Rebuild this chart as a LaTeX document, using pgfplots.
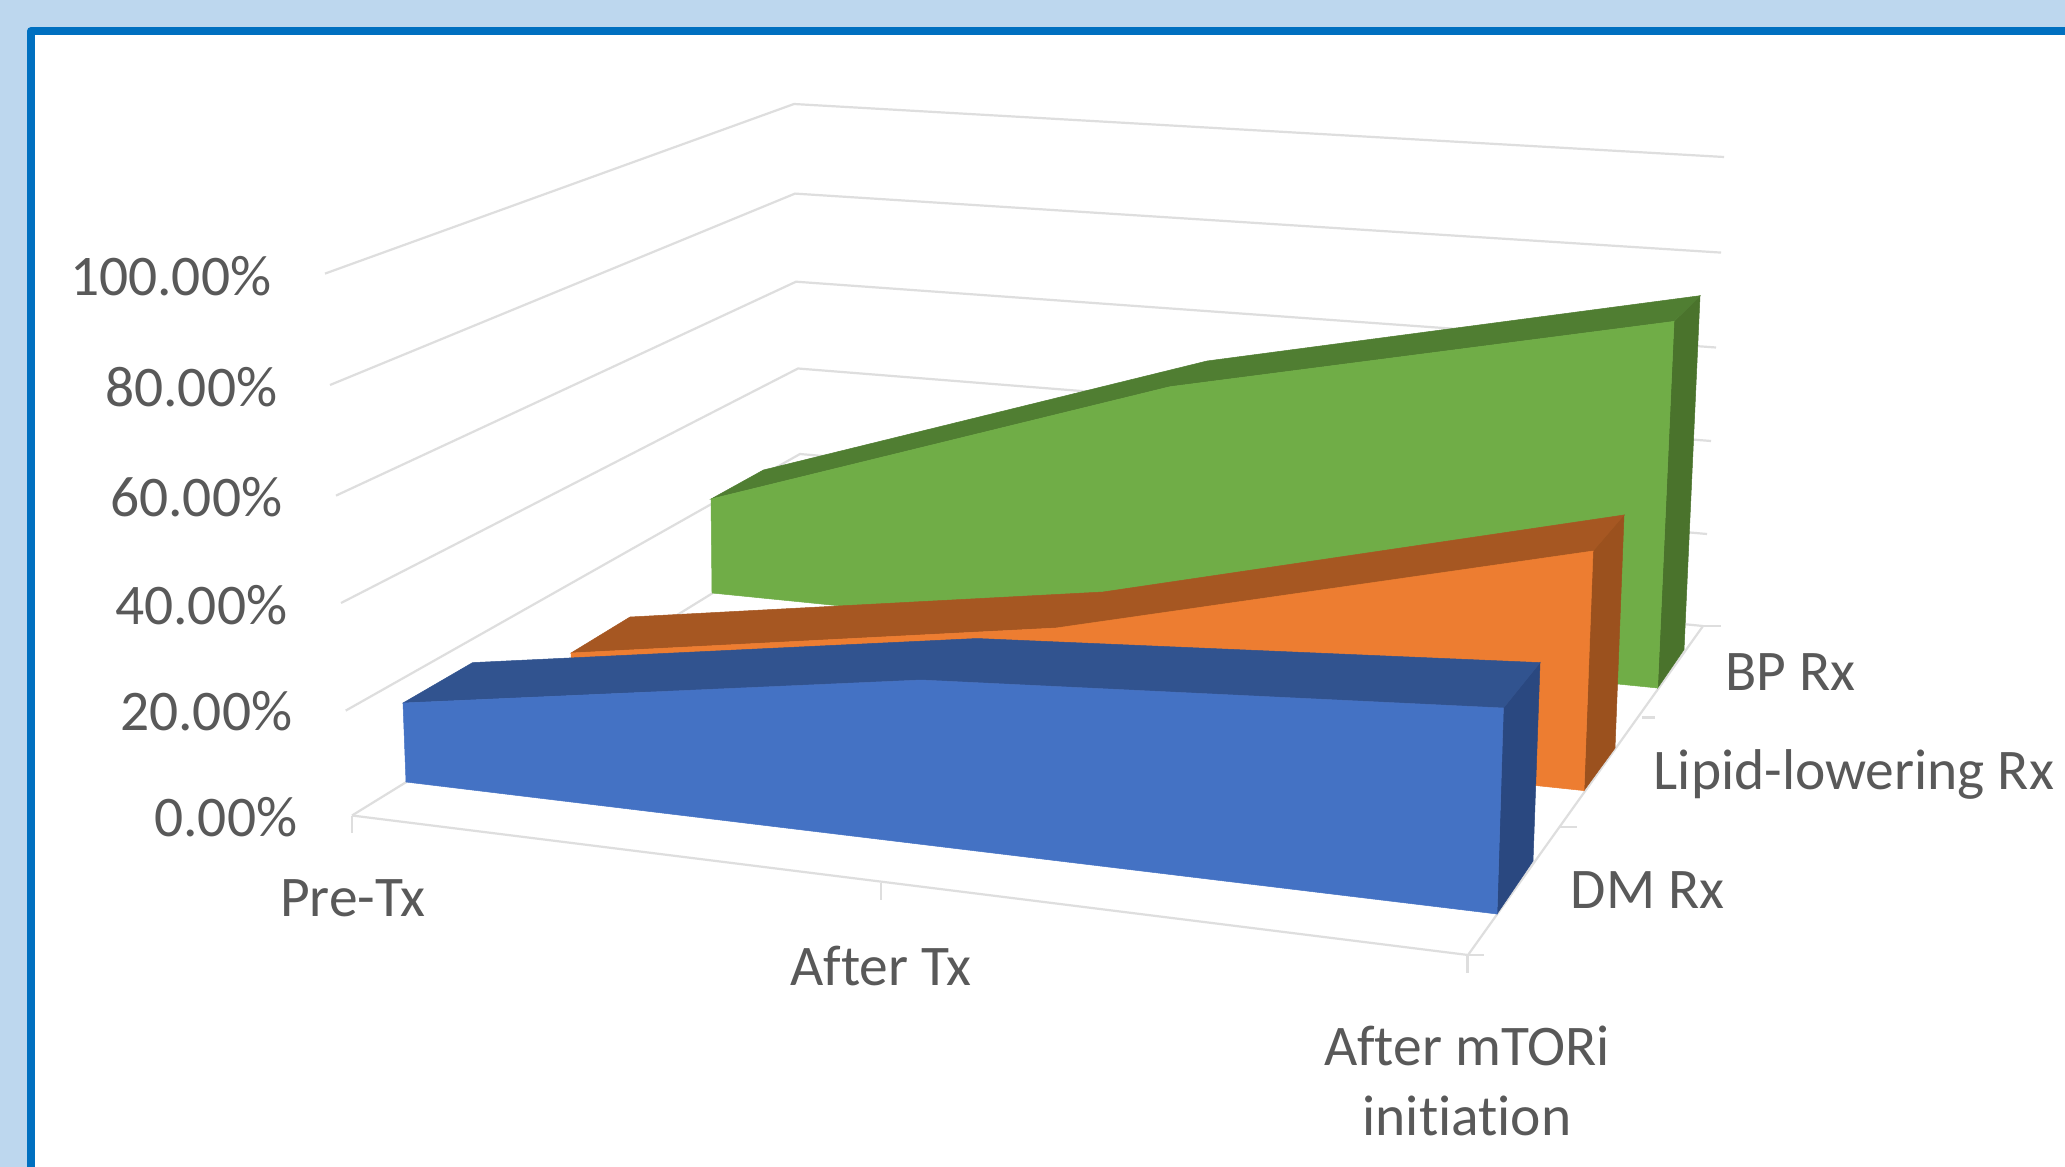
\documentclass[border=0pt]{standalone}
\usepackage{fontspec}
\setmainfont[Ligatures=NoCommon]{Carlito}
\usepackage{pgfplots}
\pgfplotsset{compat=1.18}

\definecolor{panel}{HTML}{BDD7EE}
\definecolor{frameblue}{HTML}{0070C0}
\definecolor{gridgray}{HTML}{DEDEDE}
\definecolor{labelgray}{HTML}{595959}
\definecolor{bluefront}{HTML}{4472C4}
\definecolor{bluetop}{HTML}{31538F}
\definecolor{blueside}{HTML}{2A4880}
\definecolor{orangefront}{HTML}{ED7D31}
\definecolor{orangetop}{HTML}{A65722}
\definecolor{orangeside}{HTML}{9B511E}
\definecolor{greenfront}{HTML}{70AD47}
\definecolor{greentop}{HTML}{507E32}
\definecolor{greenside}{HTML}{4A732C}

% One solid face of a series, given by its projected corners
\newcommand{\face}[2]{\addplot[fill=#1,draw=#1,line width=0.05mm] coordinates {#2} --cycle;}
% One wall, floor or tick line
\newcommand{\gridline}[1]{\addplot[draw=gridgray,line width=0.22mm] coordinates {#1};}
\newcommand{\lab}[4]{\node[font=\fontsize{16.35}{18}\selectfont,text=labelgray,inner sep=0pt,anchor=#1] at (axis cs:#2,#3) {#4};}

\begin{document}
\begin{tikzpicture}
\begin{axis}[
  scale only axis,
  width=206.5mm, height=116.7mm,
  xmin=0, xmax=2065, ymin=0, ymax=1167,
  y dir=reverse,
  hide axis,
  clip=true,
]
% page background and framed panel
\addplot[fill=panel,draw=none] coordinates {(0,0)(2065,0)(2065,1167)(0,1167)} --cycle;
\addplot[fill=white,draw=frameblue,line width=0.8mm,line join=round]
  coordinates {(31,1190)(31,31)(2090,31)(2090,1190)} --cycle;

% value gridlines: side wall, then back wall
\gridline{(325,273.6)(794,104)(1724,157)}
\gridline{(330,385)(795,193.6)(1721,252.6)}
\gridline{(336,495.6)(796,281.7)(1716,347.5)}
\gridline{(341,603)(798,368.5)(1711,441)}
\gridline{(345.7,710.6)(800,454)(1707,534)}
% floor outline
\gridline{(352,815.5)(802,538)(1703,626)}
\gridline{(352,815.5)(1468,955)(1703,626)}
% category ticks
\gridline{(352,815.5)(352,833)}
\gridline{(881,882.5)(881,899.5)}
\gridline{(1467.5,955)(1467.5,972.5)}
% series ticks
\gridline{(1703,626)(1721,626)}
\gridline{(1642,717.5)(1655,717.5)}
\gridline{(1560,827)(1577,827)}
\gridline{(1468,955)(1484,955)}

% BP Rx
\face{greenside}{(1674,321.4)(1700,295.7)(1684,649.6)(1657.6,688)}
\face{greentop}{(711,499)(763.4,470)(1207,361)(1700,295.7)(1674,321.4)(1170,386.7)}
\face{greenfront}{(711,499)(1170,386.7)(1674,321.4)(1657.6,688)(712,593)}

% Lipid-lowering Rx
\face{orangeside}{(1593,551)(1624,515)(1615,748)(1584,790.6)}
\face{orangetop}{(571,653)(630,617)(1103,592)(1624,515)(1593,551)(1056,628)}
\face{orangefront}{(571,653)(1056,628)(1593,551)(1584,790.6)(571,684)}

% DM Rx
\face{blueside}{(1503.4,708)(1540,662.6)(1533,861)(1497,914)}
\face{bluetop}{(403,703)(472.6,662.6)(977,638.5)(1540,662.6)(1503.4,708)(921,680)}
\face{bluefront}{(403,703)(921,680)(1503.4,708)(1497,914)(406,782)}

% value labels
\lab{base east}{272}{295.2}{100.00\%}
\lab{base east}{278}{406.2}{80.00\%}
\lab{base east}{283}{516.5}{60.00\%}
\lab{base east}{288}{624.5}{40.00\%}
\lab{base east}{293}{730.5}{20.00\%}
\lab{base east}{298}{836}{0.00\%}
% category labels
\lab{base}{353}{916}{Pre-Tx}
\lab{base}{881}{985.5}{After Tx}
\lab{base}{1467}{1065.5}{After mTORi}
\lab{base}{1467}{1135}{initiation}
% series labels
\lab{base west}{1725}{690}{BP Rx}
\lab{base west}{1653}{789.8}{Lipid-lowering Rx}
\lab{base west}{1570}{908}{DM Rx}
\end{axis}
\end{tikzpicture}
\end{document}
